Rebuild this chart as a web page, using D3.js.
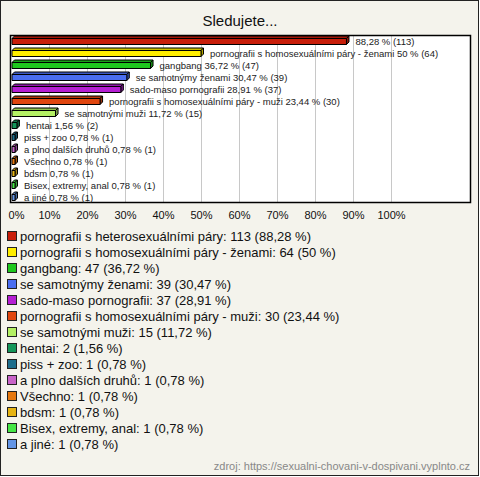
<!DOCTYPE html>
<html><head><meta charset="utf-8">
<script src="https://cdn.jsdelivr.net/npm/d3@7"></script>
<style>body{margin:0;background:#fff}svg{display:block}</style>
</head><body><svg id="c" width="480" height="477"></svg>
<script>
const categories = ["pornografii s heterosexuálními páry","pornografii s homosexuálními páry - ženami","gangbang","se samotnýmy ženami","sado-maso pornografii","pornografii s homosexuálními páry - muži","se samotnými muži","hentai","piss + zoo","a plno dalších druhů","Všechno","bdsm","Bisex, extremy, anal","a jiné"];
const counts = [113,64,47,39,37,30,15,2,1,1,1,1,1,1];
const percents = [88.28,50,36.72,30.47,28.91,23.44,11.72,1.56,0.78,0.78,0.78,0.78,0.78,0.78];
const percentText = ["88,28","50","36,72","30,47","28,91","23,44","11,72","1,56","0,78","0,78","0,78","0,78","0,78","0,78"];
const colors = ["#c81e0a","#ffee00","#1ec81e","#4a6ef0","#b41ed2","#e0460f","#b4f064","#14965a","#1e6e8c","#c864c8","#e6780f","#e6b414","#46e646","#6496e6"];
const ticks = [0,10,20,30,40,50,60,70,80,90,100];
const title = "Sledujete...";
const source = "zdroj: https://sexualni-chovani-v-dospivani.vyplnto.cz";

const svg = d3.select("#c");
const font = "'Liberation Sans', Arial, sans-serif";
svg.append("rect").attr("x",0.5).attr("y",0.5).attr("width",478).attr("height",475)
  .attr("fill","#f4f3ec").attr("stroke","#222");
svg.append("text").attr("x",240).attr("y",26).attr("text-anchor","middle")
  .attr("font-family",font).attr("font-size",15).attr("fill","#111").text(title);

const plot = {x0:10.5, x1:470.5, y0:35.5, y1:202.5};
svg.append("rect").attr("x",plot.x0).attr("y",plot.y0).attr("width",plot.x1-plot.x0).attr("height",plot.y1-plot.y0)
  .attr("fill","#fff");
const x = d3.scaleLinear().domain([0,100]).range([11,391]);
const y = d3.scaleBand().domain(categories).range([35,203]).paddingInner(0).paddingOuter(0);

// gridlines
svg.append("g").selectAll("line").data(ticks.slice(1)).join("line")
  .attr("x1",d=>Math.round(x(d))+0.5).attr("x2",d=>Math.round(x(d))+0.5)
  .attr("y1",plot.y0).attr("y2",plot.y1).attr("stroke","#c8c8c8");
svg.append("rect").attr("x",plot.x0).attr("y",plot.y0).attr("width",plot.x1-plot.x0).attr("height",plot.y1-plot.y0)
  .attr("fill","none").attr("stroke","#000").attr("stroke-width",1.5);

// axis labels
const ax = svg.append("g").attr("transform","translate(0,219)")
  .call(d3.axisBottom(x).tickValues(ticks).tickFormat(d=>d+"%").tickSize(0).tickPadding(0));
ax.select(".domain").remove();
ax.selectAll("text").attr("font-family",font).attr("font-size",11).attr("fill","#111").attr("dy",0)
  .attr("dx",(d)=>d===0?5:0);

// bars (3D style)
const d3d = 2.5, bh = 6;
const bars = svg.append("g");
categories.forEach((c,i)=>{
  const cy = Math.round(y(c)+y.bandwidth()/2)+0.5;
  const xa = x(0)+1, xb = Math.max(x(percents[i]), xa+3);
  const ya = cy-bh/2, yb = cy+bh/2;
  const col = d3.color(colors[i]);
  const g = bars.append("g").attr("stroke","#000").attr("stroke-width",1).attr("stroke-linejoin","round");
  g.append("polygon").attr("points",[[xa,ya],[xa+d3d,ya-d3d],[xb+d3d,ya-d3d],[xb,ya]].join(" "))
    .attr("fill",col.darker(0.6));
  g.append("polygon").attr("points",[[xb,ya],[xb+d3d,ya-d3d],[xb+d3d,yb-d3d],[xb,yb]].join(" "))
    .attr("fill",col.darker(1));
  g.append("rect").attr("x",xa).attr("y",ya).attr("width",xb-xa).attr("height",bh).attr("fill",col);
  const lbl = (i===0 ? "" : c+" ") + percentText[i]+" % ("+counts[i]+")";
  bars.append("text").attr("x",xb+9).attr("y",cy+3.5).attr("font-family",font).attr("font-size",9.5)
    .attr("fill","#222").text(lbl);
});

// legend
const lg = svg.append("g");
categories.forEach((c,i)=>{
  const ly = 237+i*16;
  lg.append("rect").attr("x",7.5).attr("y",ly-5.5).attr("width",9).attr("height",9)
    .attr("fill",colors[i]).attr("stroke","#222");
  lg.append("text").attr("x",20).attr("y",ly+4).attr("font-family",font).attr("font-size",13)
    .attr("fill","#111").text(c+": "+counts[i]+" ("+percentText[i]+" %)");
});

svg.append("text").attr("x",470).attr("y",470).attr("text-anchor","end").attr("font-family",font)
  .attr("font-size",11).attr("fill","#888").text(source);
</script></body></html>
